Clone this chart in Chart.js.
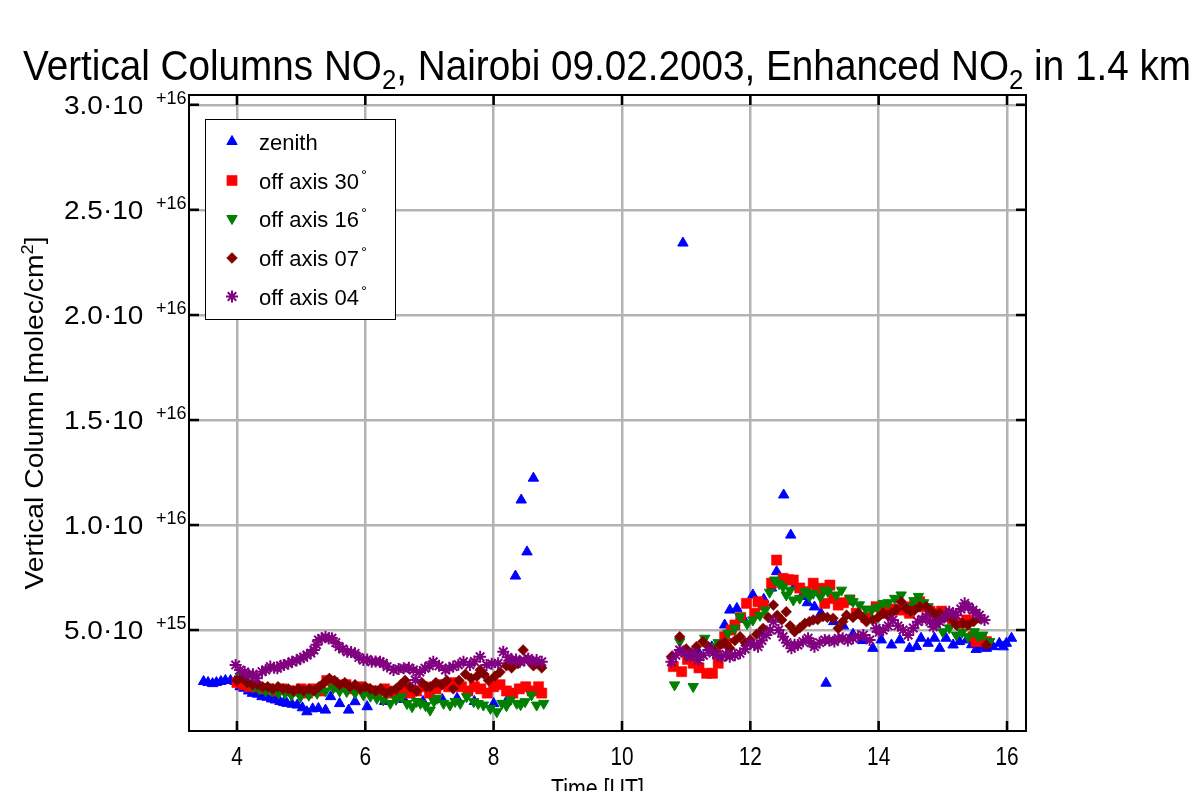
<!DOCTYPE html>
<html>
<head>
<meta charset="utf-8">
<script src="https://cdn.jsdelivr.net/npm/chart.js@4.4.1/dist/chart.umd.min.js"></script>
<style>
  html, body { margin: 0; padding: 0; background: #fff; overflow: hidden; }
  canvas { display: block; }
</style>
</head>
<body>
<canvas id="chart" width="1192" height="791"></canvas>
<script>
// values in units of 1e15 molec/cm2, time in hours UT
const zenith = [
  [3.48,2.55],[3.55,2.5],[3.62,2.45],[3.68,2.5],[3.75,2.55],[3.82,2.6],[3.9,2.6],[3.97,2.55],
  [4.05,2.3],[4.11,2.23],[4.18,2.1],[4.24,1.99],[4.32,1.95],[4.39,1.83],[4.47,1.8],[4.54,1.72],
  [4.6,1.67],[4.67,1.6],[4.73,1.55],[4.78,1.51],[4.86,1.47],[4.94,1.43],[5.02,1.3],[5.09,1.11],
  [5.18,1.25],[5.27,1.27],[5.38,1.19],[5.46,1.83],[5.6,1.5],[5.74,1.19],[5.84,1.59],[6.03,1.35],
  [6.3,1.6],[6.6,1.7],[6.9,1.6],[7.2,1.7],[7.43,1.75],[7.7,1.6],[8.0,1.5],[8.2,1.6],
  [8.34,7.57],[8.43,11.19],[8.52,8.72],[8.62,12.23],
  [10.95,23.42],
  [11.2,3.9],[11.4,4.2],[11.6,5.24],[11.68,5.95],[11.79,6.03],[11.9,5.5],[12.04,6.67],[12.15,4.85],
  [12.21,6.46],[12.33,7.0],[12.41,7.78],[12.52,11.43],[12.63,9.52],[12.69,7.07],[12.8,6.6],[12.89,6.3],
  [13.0,6.1],[13.1,5.8],[13.18,2.47],[13.3,5.4],[13.45,5.2],[13.6,4.8],[13.75,4.5],[13.91,4.13],
  [14.04,4.53],[14.2,4.29],[14.33,4.53],[14.48,4.13],[14.59,4.21],[14.66,4.61],[14.77,4.37],[14.87,4.61],
  [14.95,4.13],[15.05,4.61],[15.16,4.29],[15.26,4.45],[15.37,4.53],[15.45,4.3],[15.52,4.08],[15.6,4.2],
  [15.68,4.13],[15.78,4.21],[15.88,4.37],[15.94,4.2],[15.99,4.37],[16.07,4.61]
];
const offAxis30 = [
  [4.0,2.5],[4.1,2.4],[4.2,2.3],[4.3,2.3],[4.4,2.2],[4.5,2.2],[4.6,2.1],[4.7,2.2],[4.8,2.1],[4.9,2.1],
  [5.0,2.2],[5.1,2.0],[5.2,2.2],[5.3,2.1],[5.4,2.6],[5.5,2.5],[5.6,2.3],[5.7,2.4],[5.8,2.2],[5.9,2.3],
  [6.0,2.2],[6.1,2.1],[6.2,2.1],[6.3,2.2],[6.4,2.0],[6.5,2.1],[6.6,2.2],[6.7,2.0],[6.8,2.1],[6.9,2.3],
  [7.0,2.0],[7.1,2.2],[7.2,2.4],[7.3,2.3],[7.4,2.5],[7.5,2.3],[7.6,2.1],[7.7,2.3],[7.8,2.2],[7.9,2.0],
  [8.0,2.3],[8.1,2.4],[8.2,2.1],[8.3,2.0],[8.4,2.2],[8.5,2.3],[8.6,2.1],[8.7,2.3],[8.75,2.0],
  [10.8,3.26],[10.93,3.02],[11.02,3.6],[11.11,3.42],[11.2,3.2],[11.32,2.94],[11.41,2.94],[11.5,3.42],
  [11.6,4.68],[11.63,4.37],[11.7,5.0],[11.76,5.24],[11.85,5.6],[11.94,6.27],[12.07,5.8],[12.12,6.35],
  [12.2,6.2],[12.33,7.23],[12.41,8.33],[12.51,7.46],[12.59,7.4],[12.67,7.38],[12.77,7.0],[12.87,6.83],
  [12.98,7.23],[13.04,6.9],[13.11,6.99],[13.16,6.27],[13.24,7.14],[13.3,6.5],[13.37,6.19],[13.45,6.3],
  [13.55,6.43],[13.65,5.8],[13.8,5.6],[13.96,6.11],[14.05,5.9],[14.12,5.8],[14.2,6.0],[14.33,5.95],
  [14.4,6.1],[14.48,5.8],[14.56,6.2],[14.64,6.35],[14.69,6.11],[14.8,5.9],[14.9,5.8],[14.98,5.9],
  [15.05,5.64],[15.15,5.5],[15.26,5.32],[15.37,5.48],[15.47,4.68],[15.52,4.45],[15.6,4.6],[15.68,4.45]
];
const offAxis16 = [
  [4.05,2.8],[4.15,2.5],[4.25,2.3],[4.35,2.2],[4.45,2.1],[4.55,2.1],[4.65,2.0],[4.75,2.0],[4.85,1.9],
  [4.99,1.83],[5.12,1.9],[5.25,1.99],[5.38,2.1],[5.5,2.24],[5.6,2.1],[5.71,2.07],[5.84,2.0],[5.97,1.92],
  [6.08,1.85],[6.18,1.75],[6.28,1.67],[6.39,1.51],[6.48,1.7],[6.57,1.83],[6.65,1.5],[6.73,1.35],
  [6.8,1.6],[6.86,1.51],[6.94,1.4],[7.01,1.19],[7.07,1.6],[7.12,1.75],[7.22,1.51],[7.32,1.43],
  [7.4,1.6],[7.48,1.51],[7.58,1.83],[7.69,1.59],[7.76,1.5],[7.84,1.43],[7.95,1.27],[8.05,1.11],
  [8.13,1.51],[8.2,1.4],[8.26,1.67],[8.36,1.51],[8.42,1.45],[8.49,1.59],[8.59,1.91],[8.67,1.43],[8.78,1.51],
  [10.82,2.39],[10.9,4.45],[11.0,3.9],[11.11,2.31],[11.2,3.7],[11.29,4.61],[11.4,4.2],[11.5,4.4],
  [11.65,4.85],[11.76,5.08],[11.84,5.64],[11.95,5.3],[12.04,5.48],[12.15,5.7],[12.23,5.95],[12.3,6.8],
  [12.38,7.38],[12.45,7.2],[12.51,7.06],[12.56,6.67],[12.62,6.9],[12.67,6.43],[12.77,6.51],[12.85,6.83],
  [12.92,6.6],[12.98,6.75],[13.09,6.59],[13.15,6.9],[13.21,6.83],[13.34,6.67],[13.42,6.9],[13.55,6.51],
  [13.6,6.35],[13.7,6.2],[13.8,6.0],[13.89,5.95],[13.98,6.1],[14.07,6.27],[14.15,6.3],[14.25,6.51],
  [14.35,6.67],[14.46,6.11],[14.55,6.4],[14.62,6.6],[14.7,6.3],[14.77,6.11],[14.85,5.8],[14.92,5.5],
  [15.0,4.92],[15.1,5.1],[15.21,4.76],[15.3,4.9],[15.39,4.68],[15.49,4.92],[15.55,4.7],[15.62,4.76],[15.73,4.45]
];
const offAxis07 = [
  [4.0,2.6],[4.08,2.7],[4.16,2.5],[4.24,2.4],[4.32,2.4],[4.4,2.3],[4.48,2.3],[4.56,2.2],[4.64,2.3],
  [4.72,2.2],[4.8,2.2],[4.88,2.1],[4.96,2.2],[5.04,2.1],[5.12,2.2],[5.2,2.1],[5.28,2.3],[5.36,2.5],
  [5.44,2.7],[5.52,2.6],[5.6,2.4],[5.68,2.5],[5.76,2.3],[5.84,2.4],[5.92,2.2],[6.0,2.3],[6.08,2.2],
  [6.16,2.1],[6.24,2.2],[6.32,2.0],[6.4,2.1],[6.48,2.2],[6.55,2.4],[6.62,2.6],[6.7,2.3],[6.8,2.1],
  [6.88,2.5],[6.95,2.3],[7.01,2.3],[7.1,2.5],[7.19,2.4],[7.27,2.6],[7.37,2.2],[7.46,2.6],[7.56,2.9],
  [7.65,2.7],[7.74,2.8],[7.79,3.1],[7.85,2.9],[7.92,2.6],[8.02,2.8],[8.1,3.0],[8.2,3.3],[8.28,3.2],
  [8.31,3.5],[8.38,3.4],[8.46,4.05],[8.53,3.6],[8.62,3.3],[8.68,3.4],[8.75,3.2],
  [10.77,3.73],[10.9,4.68],[11.0,4.1],[11.08,3.9],[11.16,4.21],[11.26,4.45],[11.35,4.2],[11.45,4.0],
  [11.53,4.29],[11.6,4.4],[11.68,4.13],[11.76,4.5],[11.84,4.68],[11.92,4.4],[12.0,4.53],[12.1,4.8],
  [12.2,5.08],[12.28,5.6],[12.36,6.19],[12.42,5.7],[12.49,5.48],[12.56,5.87],[12.62,5.2],[12.69,4.92],
  [12.77,5.1],[12.85,5.32],[12.92,5.4],[12.98,5.48],[13.05,5.5],[13.13,5.64],[13.2,5.6],[13.29,5.56],
  [13.37,5.08],[13.44,5.4],[13.5,5.71],[13.6,5.6],[13.68,5.8],[13.75,5.6],[13.81,5.4],[13.91,5.48],
  [13.99,5.6],[14.07,5.8],[14.14,5.7],[14.2,5.8],[14.28,6.0],[14.35,6.35],[14.43,6.03],[14.5,5.9],
  [14.56,5.95],[14.64,6.11],[14.74,6.11],[14.82,5.9],[14.88,5.7],[14.95,5.8],[15.02,5.6],[15.08,5.8],
  [15.15,5.5],[15.21,5.24],[15.31,5.32],[15.39,5.24],[15.48,5.4],[15.57,5.56],[15.68,4.29]
];
const offAxis04 = [
  [3.98,3.34],[4.05,3.1],[4.12,3.0],[4.18,2.86],[4.25,2.9],[4.31,2.7],[4.39,3.02],[4.45,3.1],[4.52,3.26],
  [4.58,3.2],[4.63,3.18],[4.68,3.3],[4.73,3.34],[4.8,3.4],[4.86,3.49],[4.93,3.55],[4.99,3.65],[5.04,3.7],
  [5.09,3.81],[5.15,3.9],[5.2,4.05],[5.24,4.3],[5.27,4.53],[5.32,4.6],[5.38,4.68],[5.43,4.6],[5.48,4.61],
  [5.54,4.4],[5.59,4.21],[5.65,4.1],[5.72,3.97],[5.78,3.95],[5.84,3.89],[5.9,3.7],[5.97,3.57],[6.03,3.6],
  [6.1,3.49],[6.16,3.5],[6.23,3.49],[6.28,3.42],[6.34,3.26],[6.44,3.1],[6.52,3.15],[6.6,3.18],[6.68,3.2],
  [6.75,3.1],[6.78,2.62],[6.85,3.0],[6.93,3.18],[7.0,3.3],[7.06,3.49],[7.15,3.3],[7.25,3.1],[7.31,3.2],
  [7.37,3.26],[7.45,3.35],[7.53,3.49],[7.63,3.34],[7.7,3.5],[7.79,3.73],[7.89,3.34],[7.97,3.4],[8.07,3.42],
  [8.15,3.97],[8.22,3.7],[8.28,3.57],[8.35,3.6],[8.41,3.49],[8.48,3.55],[8.54,3.65],[8.6,3.5],[8.67,3.57],[8.75,3.49],
  [10.77,3.49],[10.84,3.8],[10.9,4.05],[10.98,3.9],[11.06,3.73],[11.12,3.9],[11.19,3.57],[11.27,3.8],
  [11.35,4.05],[11.42,3.9],[11.48,3.81],[11.55,3.7],[11.62,3.85],[11.68,3.73],[11.76,3.8],[11.84,3.89],
  [11.92,4.1],[12.0,4.37],[12.06,4.3],[12.12,4.21],[12.18,4.5],[12.25,4.76],[12.31,5.0],[12.36,5.4],
  [12.44,5.0],[12.51,4.68],[12.57,4.4],[12.64,4.13],[12.69,4.3],[12.74,4.29],[12.82,4.45],[12.9,4.61],
  [12.95,4.4],[13.0,4.21],[13.08,4.4],[13.16,4.53],[13.23,4.5],[13.31,4.45],[13.37,4.6],[13.44,4.61],
  [13.52,4.5],[13.6,4.61],[13.68,4.7],[13.76,4.76],[13.86,4.53],[13.96,5.08],[14.01,4.9],[14.07,5.0],
  [14.15,5.2],[14.22,5.48],[14.3,5.2],[14.38,5.0],[14.46,4.76],[14.54,5.1],[14.61,5.4],[14.68,5.5],
  [14.74,5.64],[14.8,5.4],[14.85,5.16],[14.9,5.3],[14.95,5.4],[15.02,5.6],[15.1,5.87],[15.16,5.8],
  [15.21,5.71],[15.28,6.0],[15.34,6.27],[15.4,6.1],[15.47,5.95],[15.52,5.8],[15.57,5.71],[15.65,5.48]
];

const seriesNames = ['zenith', 'off axis 30', 'off axis 16', 'off axis 07', 'off axis 04'];
const xTicks = [4, 6, 8, 10, 12, 14, 16];
const yTicks = [5, 10, 15, 20, 25, 30];
const yTickMant = ['5.0', '1.0', '1.5', '2.0', '2.5', '3.0'];
const yTickExp = ['+15', '+16', '+16', '+16', '+16', '+16'];

const FONT = '"Liberation Sans", Arial, sans-serif';
const toXY = arr => arr.map(p => ({ x: p[0], y: p[1] }));

const styles = [
  { color: '#0000ff', pointStyle: 'triangle', radius: 6, rotation: 0, borderWidth: 1 },
  { color: '#ff0000', pointStyle: 'rect', radius: 7.2, rotation: 0, borderWidth: 0.5 },
  { color: '#008000', pointStyle: 'triangle', radius: 6, rotation: 180, borderWidth: 1 },
  { color: '#800000', pointStyle: 'rectRot', radius: 5.4, rotation: 0, borderWidth: 0.5 },
  { color: '#800080', pointStyle: 'star', radius: 6, rotation: 0, borderWidth: 2 }
];
const seriesData = [zenith, offAxis30, offAxis16, offAxis07, offAxis04];

function narrowText(ctx, str, x, y, sx, align) {
  ctx.save();
  ctx.translate(x, y);
  ctx.scale(sx, 1);
  ctx.textAlign = align || 'left';
  ctx.fillText(str, 0, 0);
  ctx.restore();
}

const decor = {
  id: 'decor',
  afterDraw(chart) {
    const ctx = chart.ctx;
    const { left, right, top, bottom } = chart.chartArea;
    const xs = chart.scales.x, ys = chart.scales.y;
    ctx.save();
    ctx.fillStyle = '#000';
    ctx.strokeStyle = '#000';
    ctx.textBaseline = 'alphabetic';

    // inner tick marks
    ctx.lineWidth = 2.5;
    ctx.beginPath();
    xTicks.forEach(v => {
      const px = xs.getPixelForValue(v);
      ctx.moveTo(px, bottom); ctx.lineTo(px, bottom - 10);
      ctx.moveTo(px, top); ctx.lineTo(px, top + 10);
    });
    yTicks.forEach(v => {
      const py = ys.getPixelForValue(v);
      ctx.moveTo(left, py); ctx.lineTo(left + 10, py);
      ctx.moveTo(right, py); ctx.lineTo(right - 10, py);
    });
    ctx.stroke();

    // frame
    ctx.lineWidth = 2;
    ctx.strokeRect(left, top, right - left, bottom - top);

    // x tick labels
    ctx.font = '26px ' + FONT;
    xTicks.forEach(v => narrowText(ctx, String(v), xs.getPixelForValue(v), 765, 0.8, 'center'));

    // y tick labels: mantissa·10 with superscript exponent
    yTicks.forEach((v, i) => {
      const py = ys.getPixelForValue(v);
      ctx.font = '25px ' + FONT;
      ctx.textAlign = 'left';
      narrowText(ctx, yTickMant[i] + '\u00b710', 64, py + 9, 1.12, 'left');
      ctx.font = '18px ' + FONT;
      ctx.fillText(yTickExp[i], 156, py - 1);
    });

    // x axis title
    ctx.font = '26px ' + FONT;
    narrowText(ctx, 'Time [UT]', (left + right) / 2 - 10, 797, 0.82, 'center');

    // y axis title, rotated
    ctx.save();
    ctx.translate(43, 413);
    ctx.rotate(-Math.PI / 2);
    ctx.font = '25px ' + FONT;
    const t1 = 'Vertical Column [molec/cm';
    const w1 = ctx.measureText(t1).width;
    ctx.font = '16px ' + FONT;
    const w2 = ctx.measureText('2').width;
    ctx.font = '25px ' + FONT;
    const w3 = ctx.measureText(']').width;
    const tot = w1 + w2 + w3;
    const k = 353 / tot;
    ctx.scale(k, 1);
    ctx.textAlign = 'left';
    ctx.fillText(t1, -tot / 2, 0);
    ctx.font = '16px ' + FONT;
    ctx.fillText('2', -tot / 2 + w1, -10);
    ctx.font = '25px ' + FONT;
    ctx.fillText(']', -tot / 2 + w1 + w2, 0);
    ctx.restore();

    // legend box
    ctx.fillStyle = '#fff';
    ctx.fillRect(205, 119, 191, 201);
    ctx.lineWidth = 1;
    ctx.strokeStyle = '#000';
    ctx.strokeRect(205.5, 119.5, 190, 200);
    const rows = [141.5, 180.5, 218.5, 258, 296.5];
    seriesNames.forEach((name, i) => {
      const st = styles[i];
      ctx.fillStyle = st.color;
      ctx.strokeStyle = st.color;
      ctx.lineWidth = st.borderWidth;
      Chart.helpers.drawPoint(ctx, { pointStyle: st.pointStyle, radius: st.radius, rotation: st.rotation, borderWidth: st.borderWidth }, 232, rows[i]);
      ctx.fillStyle = '#000';
      ctx.font = '22px ' + FONT;
      ctx.textAlign = 'left';
      ctx.fillText(name, 259, rows[i] + 8);
      if (i > 0) {
        const w = ctx.measureText(name).width;
        ctx.font = '15px ' + FONT;
        ctx.fillText('\u00b0', 259 + w + 2, rows[i] - 1);
      }
    });

    // title with subscripts
    const segs = [
      ['Vertical Columns NO', 0], ['2', 1], [', Nairobi 09.02.2003, Enhanced NO', 0], ['2', 1], [' in 1.4 km', 0]
    ];
    let total = 0;
    segs.forEach(s => {
      ctx.font = (s[1] ? '28px ' : '42px ') + FONT;
      total += ctx.measureText(s[0]).width;
    });
    const sx = 1168 / total;
    ctx.save();
    ctx.translate(23, 80);
    ctx.scale(sx, 1);
    ctx.fillStyle = '#000';
    ctx.textAlign = 'left';
    let cx = 0;
    segs.forEach(s => {
      ctx.font = (s[1] ? '28px ' : '42px ') + FONT;
      ctx.fillText(s[0], cx, s[1] ? 9 : 0);
      cx += ctx.measureText(s[0]).width;
    });
    ctx.restore();

    ctx.restore();
  }
};

new Chart(document.getElementById('chart'), {
  type: 'scatter',
  data: {
    datasets: seriesData.map((d, i) => ({
      label: seriesNames[i],
      data: toXY(d),
      pointStyle: styles[i].pointStyle,
      pointRadius: styles[i].radius,
      pointRotation: styles[i].rotation,
      pointBorderWidth: styles[i].borderWidth,
      backgroundColor: styles[i].color,
      borderColor: styles[i].color,
      showLine: false,
      order: 5 - i
    }))
  },
  options: {
    responsive: false,
    animation: false,
    events: [],
    layout: { padding: { left: 189, right: 166, top: 95, bottom: 60 } },
    plugins: { legend: { display: false }, tooltip: { enabled: false }, title: { display: false } },
    scales: {
      x: {
        type: 'linear', min: 3.253, max: 16.296,
        afterBuildTicks: s => { s.ticks = xTicks.map(v => ({ value: v })); },
        ticks: { display: false },
        grid: { color: '#b3b3b3', lineWidth: 2.5, drawTicks: false },
        border: { display: false }
      },
      y: {
        type: 'linear', min: 0.195, max: 30.466,
        afterBuildTicks: s => { s.ticks = yTicks.map(v => ({ value: v })); },
        ticks: { display: false },
        grid: { color: '#b3b3b3', lineWidth: 2.5, drawTicks: false },
        border: { display: false }
      }
    }
  },
  plugins: [decor]
});
</script>
</body>
</html>
